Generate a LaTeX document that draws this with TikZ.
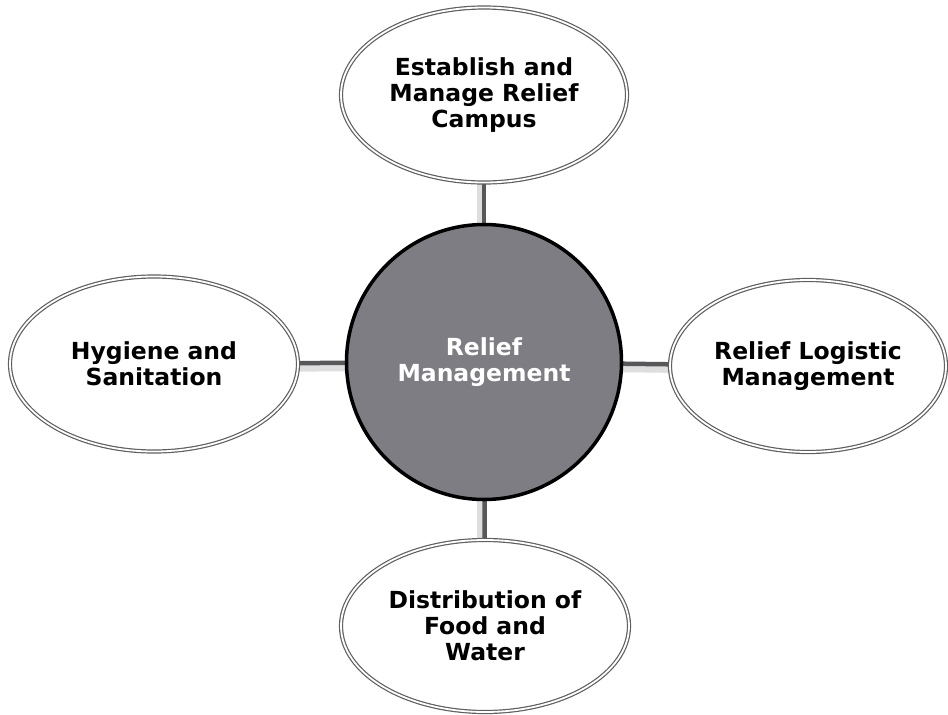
\documentclass[tikz,border=0pt]{standalone}
\usepackage{fontspec}
\setmainfont{DejaVu Sans}
\usetikzlibrary{shapes.geometric}
\usetikzlibrary{backgrounds}
\definecolor{hubgray}{RGB}{126,125,132}
\definecolor{linkgray}{RGB}{88,88,90}
\definecolor{rimgray}{RGB}{95,95,95}
\tikzset{
    topic/.style={
        ellipse, draw=rimgray, double=white, double distance=1.8pt, line width=1.2pt,
        fill=white, inner sep=0pt, align=center, text=black,
        font=\fontsize{23.5}{26}\selectfont\bfseries
    },
    hub/.style={
        circle, draw=black, line width=3.5pt, fill=hubgray, minimum size=275pt,
        inner sep=0pt, align=center, text=white,
        font=\fontsize{23.5}{26}\selectfont\bfseries
    },
    link/.style={
        draw=linkgray, line width=4.5pt,
        preaction={draw=black!13, line width=9pt, transform canvas={shift={(-3pt,-4pt)}}}
    }
}

\begin{document}
\begin{tikzpicture}[x=1pt,y=-1pt]
    \useasboundingbox (0,0) rectangle (948,715);

    \node[hub] (RELIEF) at (484,362) {Relief\\Management};

    \node[topic, minimum width=286pt, minimum height=175pt] (CAMP) at (484,95) {Establish and\\Manage Relief\\Campus};
    \node[topic, minimum width=288pt, minimum height=175pt] (HYG) at (154,364) {Hygiene and\\Sanitation};
    \node[topic, minimum width=276pt, minimum height=172pt] (LOGI) at (808,366) {Relief Logistic\\Management};
    \node[topic, minimum width=288pt, minimum height=172pt] (FOOD) at (485,626) {Distribution of\\Food and\\Water};

    \begin{pgfonlayer}{background}
        \draw[link] (RELIEF.center) -- (CAMP.center);
        \draw[link] (RELIEF.center) -- (HYG.center);
        \draw[link] (RELIEF.center) -- (LOGI.center);
        \draw[link] (RELIEF.center) -- (FOOD.center);
    \end{pgfonlayer}
\end{tikzpicture}
\end{document}
